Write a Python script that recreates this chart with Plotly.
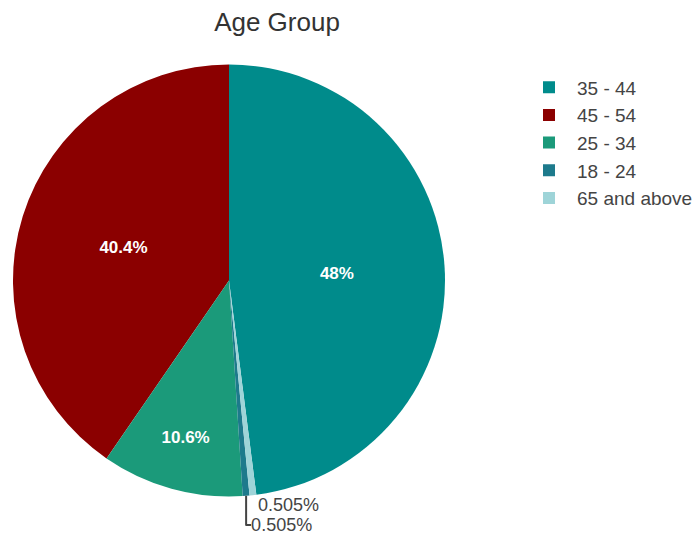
import plotly.graph_objects as go

labels = ["35 - 44", "45 - 54", "25 - 34", "18 - 24", "65 and above"]
counts = [95, 80, 21, 1, 1]
colors = ["#008B8B", "#8B0000", "#1B9A7A", "#1D7A8C", "#9ED4D8"]

fig = go.Figure(go.Pie(
    labels=labels,
    values=counts,
    marker=dict(colors=colors),
    sort=True,
    direction="counterclockwise",
    rotation=0,
    textinfo="percent",
    textposition="auto",
    insidetextfont=dict(family="Arial", size=17, color="white", weight="bold"),
    outsidetextfont=dict(family="Arial", size=18, color="#444"),
    showlegend=True,
))

fig.update_layout(
    width=692, height=537,
    margin=dict(l=13, r=247, t=64, b=40, autoexpand=False),
    paper_bgcolor="white",
    font=dict(family="Arial", color="#333"),
    title=dict(text="Age Group", x=(277 - 13) / 432, xref="paper", xanchor="center",
               y=1 - 22 / 537, yanchor="middle", font=dict(size=26, color="#333")),
    legend=dict(x=(521 - 13) / 432, y=0.99, xanchor="left", yanchor="top",
                itemwidth=46,
                font=dict(size=19, color="#444")),
)

fig.write_html("out.html",
               config={"displayModeBar": False},
               post_script="document.body.style.margin='0';document.body.style.overflow='hidden';")
